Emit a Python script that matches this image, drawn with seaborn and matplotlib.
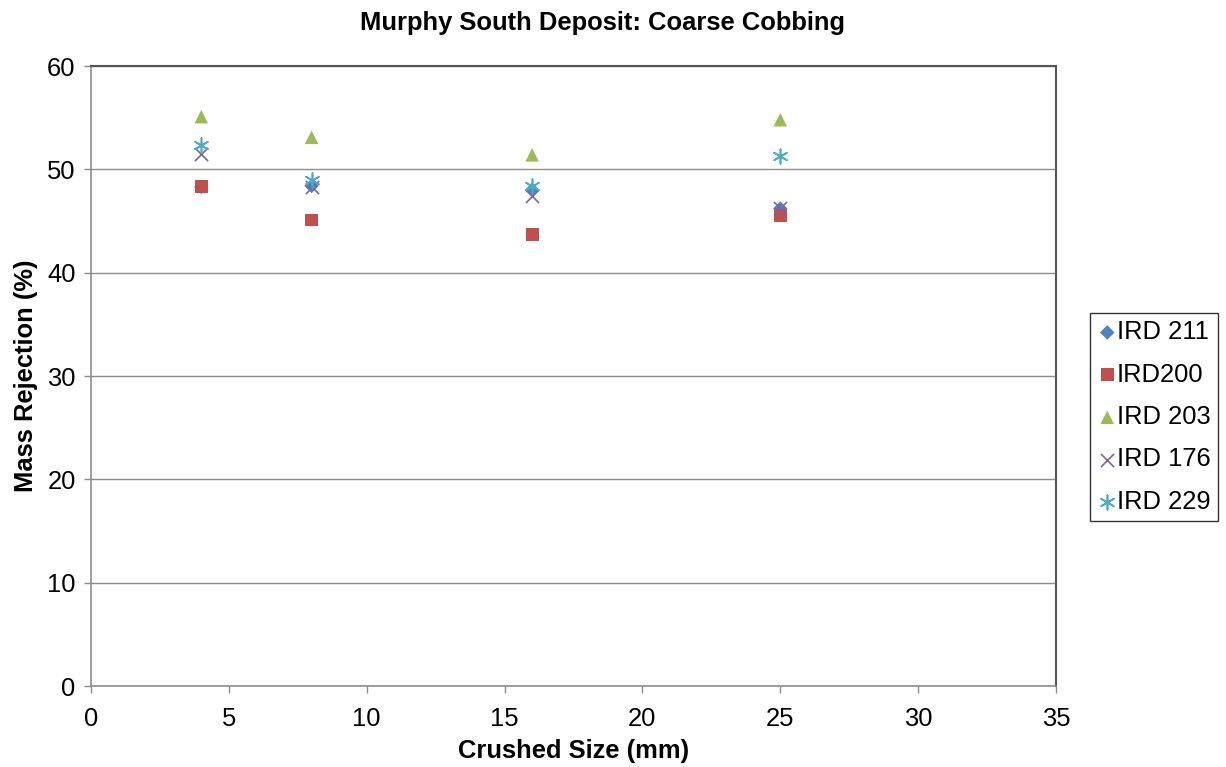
import matplotlib
matplotlib.use("Agg")
import matplotlib.pyplot as plt
import seaborn as sns
import pandas as pd

# Crushed size (mm) and mass rejection (%) for each drill hole
sizes = [4, 8, 16, 25]
ird_211 = [48.3, 48.4, 48.0, 46.2]
ird_200 = [48.3, 45.1, 43.7, 45.5]
ird_203 = [55.1, 53.1, 51.4, 54.8]
ird_176 = [51.5, 48.3, 47.4, 46.3]
ird_229 = [52.4, 49.0, 48.4, 51.3]

series_names = ["IRD 211", "IRD200", "IRD 203", "IRD 176", "IRD 229"]
series_values = [ird_211, ird_200, ird_203, ird_176, ird_229]

colors = ["#4F81BD", "#C0504D", "#9BBB59", "#8064A2", "#4BACC6"]
markers = ["D", "s", "^", "x", (6, 2, 0)]
sizes_pt = [55, 85, 95, 90, 110]

sns.set_theme(style="white")
plt.rcParams["font.family"] = ["Liberation Sans", "DejaVu Sans"]
plt.rcParams["text.color"] = "black"
plt.rcParams["axes.labelcolor"] = "black"
FS = 18.4

fig = plt.figure(figsize=(12.26, 7.67), dpi=100)
ax = fig.add_axes([91 / 1226, 1 - 686 / 767, (1056 - 91) / 1226, (686 - 66) / 767])

for name, vals, c, m, s in zip(series_names, series_values, colors, markers, sizes_pt):
    df = pd.DataFrame({"size": sizes, "rejection": vals})
    kw = dict(color=c, marker=m, s=s, label=name, ax=ax, zorder=3)
    if m in ("x",) or isinstance(m, tuple):
        kw["linewidth"] = 1.2
    else:
        kw["edgecolor"] = "none"
    sns.scatterplot(data=df, x="size", y="rejection", **kw)

ax.set_xlim(0, 35)
ax.set_ylim(0, 60)
ax.set_xticks(range(0, 36, 5))
ax.set_yticks(range(0, 61, 10))
ax.yaxis.grid(True, color="#8c8c8c", linewidth=1.0)
ax.xaxis.grid(False)
ax.set_axisbelow(True)

for side in ("left", "bottom"):
    ax.spines[side].set_color("#8c8c8c")
    ax.spines[side].set_linewidth(1.2)
for side in ("top", "right"):
    ax.spines[side].set_color("#555555")
    ax.spines[side].set_linewidth(1.5)

ax.tick_params(axis="both", which="major", direction="out", length=5, width=1.0,
               color="#8c8c8c", labelsize=FS, labelcolor="black",
               bottom=True, left=True)
ax.tick_params(axis="x", pad=10)
ax.tick_params(axis="y", pad=6)

ax.set_xlabel("Crushed Size (mm)", fontsize=FS, fontweight="bold", labelpad=6,
              color="black")
ax.set_ylabel("Mass Rejection (%)", fontsize=FS, fontweight="bold", labelpad=7,
              color="black")
fig.suptitle("Murphy South Deposit: Coarse Cobbing", fontsize=FS, fontweight="bold",
             x=602 / 1226, y=1 - 11 / 767, va="top", color="black")

leg = ax.legend(loc="center left", bbox_to_anchor=(1090 / 1226, 1 - 417 / 767),
                bbox_transform=fig.transFigure, frameon=True, fancybox=False,
                fontsize=FS, handletextpad=0.0, handlelength=0.75,
                labelspacing=0.72, borderpad=0.3, borderaxespad=0)
leg.get_frame().set_edgecolor("black")
leg.get_frame().set_linewidth(1.0)
for t in leg.get_texts():
    t.set_color("black")

fig.savefig("out.png", dpi=100)
